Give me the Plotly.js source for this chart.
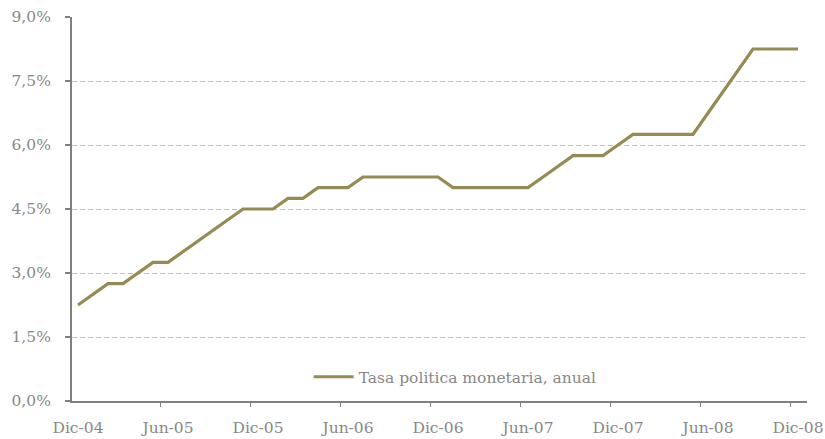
<!DOCTYPE html>
<html>
<head>
<meta charset="utf-8">
<script src="https://cdn.plot.ly/plotly-3.0.1.min.js"></script>
<style>html,body{margin:0;padding:0;background:#fff;}#chart{width:825px;height:439px;}</style>
</head>
<body>
<div id="chart"></div>
<script>
// Monthly categories Dic-04 .. Dic-08 (index 0..48)
var months = ["Dic-04","Ene-05","Feb-05","Mar-05","Abr-05","May-05","Jun-05","Jul-05","Ago-05","Sep-05","Oct-05","Nov-05",
  "Dic-05","Ene-06","Feb-06","Mar-06","Abr-06","May-06","Jun-06","Jul-06","Ago-06","Sep-06","Oct-06","Nov-06",
  "Dic-06","Ene-07","Feb-07","Mar-07","Abr-07","May-07","Jun-07","Jul-07","Ago-07","Sep-07","Oct-07","Nov-07",
  "Dic-07","Ene-08","Feb-08","Mar-08","Abr-08","May-08","Jun-08","Jul-08","Ago-08","Sep-08","Oct-08","Nov-08","Dic-08"];
var tpm = [2.25,2.50,2.75,2.75,3.00,3.25,3.25,3.50,3.75,4.00,4.25,4.50,
  4.50,4.50,4.75,4.75,5.00,5.00,5.00,5.25,5.25,5.25,5.25,5.25,
  5.25,5.00,5.00,5.00,5.00,5.00,5.00,5.25,5.50,5.75,5.75,5.75,
  6.00,6.25,6.25,6.25,6.25,6.25,6.75,7.25,7.75,8.25,8.25,8.25,8.25];
var seriesName = "Tasa politica monetaria, anual";
var xLabelIdx = [0,6,12,18,24,30,36,42,48];
var yTicks = [0,1.5,3,4.5,6,7.5,9];
var yTickText = ["0,0%","1,5%","3,0%","4,5%","6,0%","7,5%","9,0%"];

var idx = months.map(function(m,i){return i;});
var grey = "#808080";
var font = {family: "DejaVu Serif", size: 15.5, color: "#888888"};

var trace = {
  x: idx, y: tpm, type: "scatter", mode: "lines", name: seriesName,
  line: {color: "#968b54", width: 3.2}, text: months, hoverinfo: "text+y"
};
// invisible trace to carry boundary tick marks on xaxis2
var tickTrace = {x: [-0.4], y: [0], xaxis: "x2", yaxis: "y", mode: "markers",
  marker: {opacity: 0}, showlegend: false, hoverinfo: "skip"};

var layout = {
  width: 825, height: 439,
  margin: {l: 72, r: 18, t: 17, b: 38},
  paper_bgcolor: "#fff", plot_bgcolor: "#fff",
  font: font,
  showlegend: true,
  legend: {x: 0.322, xanchor: "left", y: 0.062, yanchor: "middle", bgcolor: "rgba(0,0,0,0)",
    font: font, itemwidth: 40},
  xaxis: {
    range: [-0.4, 48.6], showgrid: false, zeroline: false,
    tickvals: xLabelIdx, ticktext: xLabelIdx.map(function(i){return months[i];}),
    ticks: "outside", ticklen: 11, tickcolor: "rgba(0,0,0,0)",
    showline: true, linecolor: grey, linewidth: 2, tickfont: font
  },
  xaxis2: {
    overlaying: "x", range: [-0.4, 48.6], showgrid: false, zeroline: false,
    tickvals: [5.5,11.5,17.5,23.5,29.5,35.5,41.5,47.5], ticktext: ["","","","","","","",""],
    ticks: "outside", ticklen: 5, tickcolor: grey, tickwidth: 1.5, showline: false,
    anchor: "y", side: "bottom"
  },
  yaxis: {
    range: [0, 9], tickvals: yTicks, ticktext: yTickText,
    showgrid: true, gridcolor: "#c0c0c0", gridwidth: 1, griddash: "5px,3px",
    zeroline: false, showline: true, linecolor: grey, linewidth: 2,
    ticks: "outside", ticklen: 5, tickcolor: grey, tickwidth: 1.5,
    ticklabelstandoff: 11, tickfont: font
  }
};
Plotly.newPlot("chart", [trace, tickTrace], layout, {displayModeBar: false, staticPlot: true});
</script>
</body>
</html>
